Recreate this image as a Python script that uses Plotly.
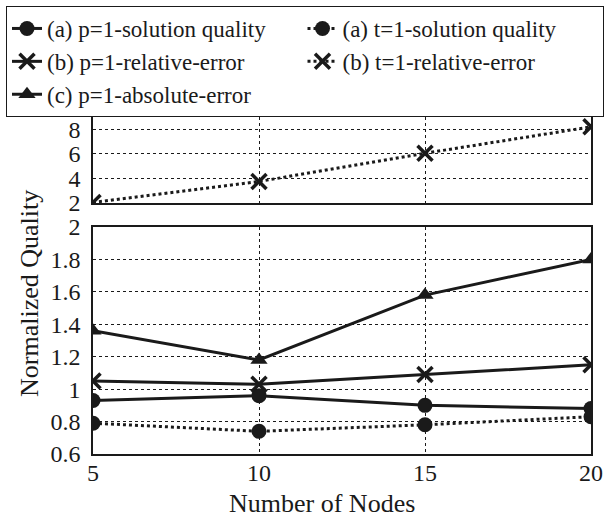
import plotly.graph_objects as go

nodes = [5, 10, 15, 20]
p1_solution_quality = [0.93, 0.96, 0.90, 0.88]
t1_solution_quality = [0.79, 0.74, 0.78, 0.83]
p1_relative_error = [1.05, 1.03, 1.09, 1.15]
t1_relative_error = [2.05, 3.75, 6.05, 8.2]
p1_absolute_error = [1.36, 1.18, 1.58, 1.80]

x_ticks = [5, 10, 15, 20]
top_ticks = [2, 4, 6, 8]
bottom_ticks = [0.6, 0.8, 1.0, 1.2, 1.4, 1.6, 1.8, 2.0]

FONT = "Liberation Serif"
BLACK = "#1a1a1a"

L, R, T, B = 93, 13, 117, 63
W, H = 604, 517
PW, PH = W - L - R, H - T - B

fig = go.Figure()
fig.add_trace(go.Scatter(x=nodes, y=p1_solution_quality, name="(a) p=1-solution quality",
                         mode="lines+markers", line=dict(color=BLACK, width=3),
                         marker=dict(symbol="circle", size=15, color=BLACK),
                         xaxis="x2", yaxis="y2"))
fig.add_trace(go.Scatter(x=nodes, y=t1_solution_quality, name="(a) t=1-solution quality",
                         mode="lines+markers", line=dict(color=BLACK, width=3, dash="dot"),
                         marker=dict(symbol="circle", size=15, color=BLACK),
                         xaxis="x2", yaxis="y2"))
fig.add_trace(go.Scatter(x=nodes, y=p1_relative_error, name="(b) p=1-relative-error",
                         mode="lines+markers", line=dict(color=BLACK, width=3),
                         marker=dict(symbol="x-thin", size=15, color=BLACK,
                                     line=dict(width=3.5, color=BLACK)),
                         xaxis="x2", yaxis="y2"))
fig.add_trace(go.Scatter(x=nodes, y=t1_relative_error, name="(b) t=1-relative-error",
                         mode="lines+markers", line=dict(color=BLACK, width=3, dash="dot"),
                         marker=dict(symbol="x-thin", size=15, color=BLACK,
                                     line=dict(width=3.5, color=BLACK)),
                         xaxis="x", yaxis="y"))
fig.add_trace(go.Scatter(x=nodes, y=p1_absolute_error, name="(c) p=1-absolute-error",
                         mode="lines+markers", line=dict(color=BLACK, width=3),
                         marker=dict(symbol="triangle-up", size=15, color=BLACK),
                         xaxis="x2", yaxis="y2"))

axis_common = dict(showline=True, linecolor=BLACK, linewidth=1.5, mirror=True,
                   showgrid=True, gridcolor=BLACK, gridwidth=1, griddash="dot",
                   zeroline=False, ticks="", automargin=False,
                   tickfont=dict(family=FONT, size=24, color=BLACK))

fig.update_layout(
    width=W, height=H,
    margin=dict(l=L, r=R, t=T, b=B, autoexpand=False),
    paper_bgcolor="white", plot_bgcolor="white",
    font=dict(family=FONT, size=24, color=BLACK),
    showlegend=True,
    legend=dict(orientation="h", x=(6 - L) / PW, y=1 + (T - 6) / PH,
                xanchor="left", yanchor="top",
                bordercolor=BLACK, borderwidth=1, bgcolor="white",
                entrywidth=0.5, entrywidthmode="fraction",
                font=dict(family=FONT, size=23, color=BLACK),
                tracegroupgap=0, itemwidth=30),
    xaxis=dict(domain=[0, 1], range=[5, 20], anchor="y", tickvals=x_ticks,
               showticklabels=False, **axis_common),
    yaxis=dict(domain=[(H - B - 203) / PH, 1], range=[2, 9], tickvals=top_ticks, anchor="x",
               ticklabelstandoff=6, **axis_common),
    xaxis2=dict(domain=[0, 1], range=[5, 20], anchor="y2", tickvals=x_ticks,
                ticklabelstandoff=-4, **axis_common),
    yaxis2=dict(domain=[0, (H - B - 227) / PH], range=[0.6, 2], tickvals=bottom_ticks,
                anchor="x2", ticklabelstandoff=6, **axis_common),
    annotations=[
        dict(text="Normalized Quality", x=(29 - L) / PW, y=(H - B - 294) / PH,
             xref="paper", yref="paper", xanchor="center", yanchor="middle",
             showarrow=False, textangle=-90,
             font=dict(family=FONT, size=26, color=BLACK)),
        dict(text="Number of Nodes", x=(322 - L) / PW, y=(H - B - 503) / PH,
             xref="paper", yref="paper", xanchor="center", yanchor="middle",
             showarrow=False, font=dict(family=FONT, size=26, color=BLACK)),
    ],
)

fig.write_html("out.html", post_script="document.body.style.margin='0';",
               config={"displayModeBar": False})
